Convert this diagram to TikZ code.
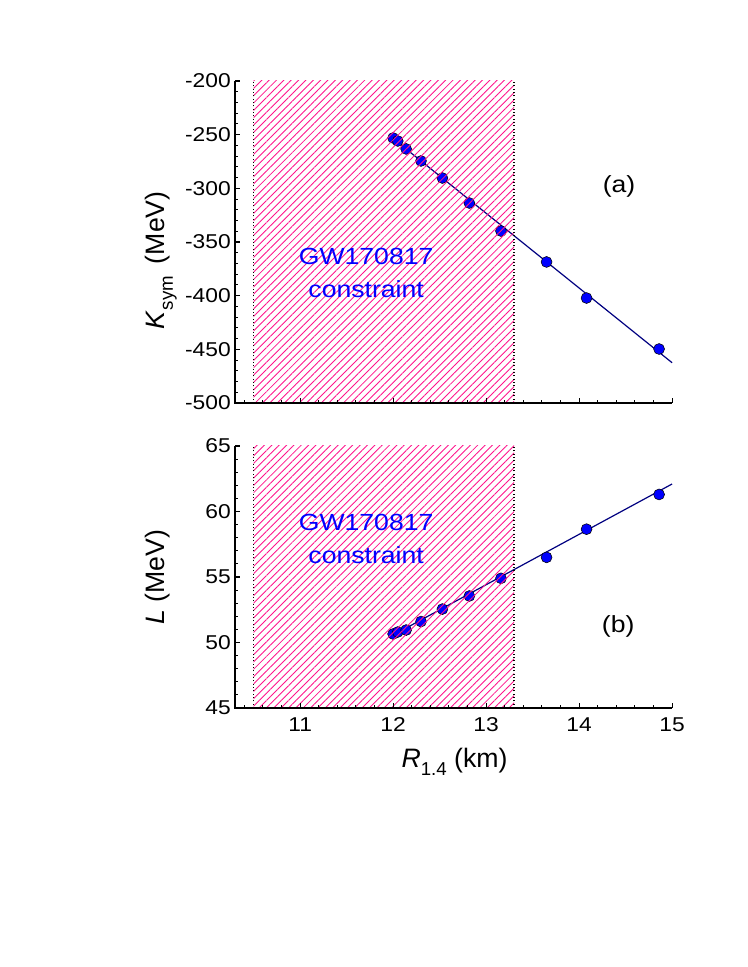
\documentclass[tikz,border=0pt]{standalone}
\usepackage{fontspec}
\setmainfont{Liberation Sans}[FakeStretch=1.14]
\newfontfamily\labelfont{Liberation Sans}
\usetikzlibrary{patterns.meta}
\definecolor{hatchpink}{RGB}{255,20,140}
\definecolor{fitnavy}{RGB}{0,0,128}
\tikzset{
    axisline/.style={line width=1pt},
    tickline/.style={line width=0.8pt},
    bound/.style={line width=0.8pt, dash pattern=on 0.8pt off 1.7pt},
    hatch/.style={pattern={Lines[angle=45, distance=3.9pt, line width=0.65pt]}, pattern color=hatchpink},
    fitline/.style={draw=fitnavy, line width=0.9pt},
    datapoint/.style={circle, draw=black, fill=blue, line width=0.4pt, inner sep=0pt, minimum size=8.2pt},
    ticklabel/.style={font=\fontsize{15}{18}\selectfont, inner sep=0pt},
    gwtext/.style={text=blue, align=center, font=\fontsize{17.5}{24.75}\selectfont},
    panellabel/.style={font=\fontsize{17.5}{21}\selectfont},
    axislabel/.style={font=\labelfont\fontsize{20}{24}\selectfont, inner sep=0pt}
}
\begin{document}
\begin{tikzpicture}
\useasboundingbox (0,0) rectangle (560.25pt,725.25pt);
% (a) K_sym versus R_1.4
\begin{scope}[shift={(176.25pt,423pt)}, x=69.75pt, y=0.805pt, shift={(-10.3,500)}]
	\coordinate (ksymstart) at (11.97,-251.5);
	\coordinate (ksymend) at (15,-462.5);
	\draw[fitline] (ksymstart) -- (ksymend);
	\foreach \r/\k [count=\i] in {12.00/-253.1, 12.05/-255.9, 12.14/-263.3, 12.30/-274.5, 12.53/-290.4, 12.82/-313.7, 13.16/-339.8, 13.65/-368.6, 14.08/-402.2, 14.86/-449.7}
		\node[datapoint] (ksym\i) at (\r,\k) {};
	\fill[hatch] (10.5,-500) rectangle (13.3,-200);
	\draw[bound] (10.5,-500) -- (10.5,-200) (13.3,-500) -- (13.3,-200);
	\node[gwtext] (gwtop) at (11.71,-378.9) {GW170817\\constraint};
	\node[panellabel] (panela) at (14.43,-297.8) {(a)};
	% axes
	\draw[axisline] (10.3,-200) -- (10.3,-500) -- (15,-500);
	\foreach \y in {-490,-480,...,-210} \draw[tickline] (10.3,\y) -- ++(2.25pt,0pt);
	\foreach \y [count=\i] in {-500,-450,...,-200} {
		\draw[tickline] (10.3,\y) -- ++(3.75pt,0pt);
		\node[ticklabel, anchor=east, xshift=-3pt] (ytop\i) at (10.3,\y) {\y};
	}
	\foreach \x in {10.4,10.6,...,14.9} \draw[tickline] (\x,-500) -- ++(0pt,2.25pt);
	\foreach \x in {11,...,15} \draw[tickline] (\x,-500) -- ++(0pt,3.75pt);
	\node[axislabel, anchor=base, rotate=90] (ksymlabel) at (9.547,-367)
		{\textit{K}\raisebox{-0.3em}{\fontsize{14}{14}\selectfont sym}\hspace{0.45em}(MeV)};
\end{scope}
% (b) L versus R_1.4
\begin{scope}[shift={(176.25pt,194.25pt)}, x=69.75pt, y=9.825pt, shift={(-10.3,-45)}]
	\coordinate (lstart) at (11.97,50.45);
	\coordinate (lend) at (15,62.1);
	\draw[fitline] (lstart) -- (lend);
	\foreach \r/\l [count=\i] in {12.00/50.65, 12.05/50.8, 12.14/50.95, 12.30/51.6, 12.53/52.55, 12.82/53.55, 13.16/54.9, 13.65/56.5, 14.08/58.65, 14.86/61.3}
		\node[datapoint] (slope\i) at (\r,\l) {};
	\fill[hatch] (10.5,45) rectangle (13.3,65);
	\draw[bound] (10.5,45) -- (10.5,65) (13.3,45) -- (13.3,65);
	\node[gwtext] (gwbottom) at (11.71,57.94) {GW170817\\constraint};
	\node[panellabel] (panelb) at (14.42,51.26) {(b)};
	% axes
	\draw[axisline] (10.3,65) -- (10.3,45) -- (15,45);
	\foreach \y in {46,...,64} \draw[tickline] (10.3,\y) -- ++(2.25pt,0pt);
	\foreach \y [count=\i] in {45,50,...,65} {
		\draw[tickline] (10.3,\y) -- ++(3.75pt,0pt);
		\node[ticklabel, anchor=east, xshift=-3pt] (ybot\i) at (10.3,\y) {\y};
	}
	\foreach \x in {10.4,10.6,...,14.9} \draw[tickline] (\x,45) -- ++(0pt,2.25pt);
	\foreach \x in {11,...,15} {
		\draw[tickline] (\x,45) -- ++(0pt,3.75pt);
		\node[ticklabel, anchor=base] (xbot\x) at (\x,43.24) {\x};
	}
	\node[axislabel, anchor=base, rotate=90] (llabel) at (9.547,55.0) {\textit{L} (MeV)};
	\node[axislabel, anchor=base] (rlabel) at (12.66,40.47)
		{\textit{R}\raisebox{-0.3em}{\fontsize{14}{14}\selectfont 1.4} (km)};
\end{scope}
\end{tikzpicture}
\end{document}
